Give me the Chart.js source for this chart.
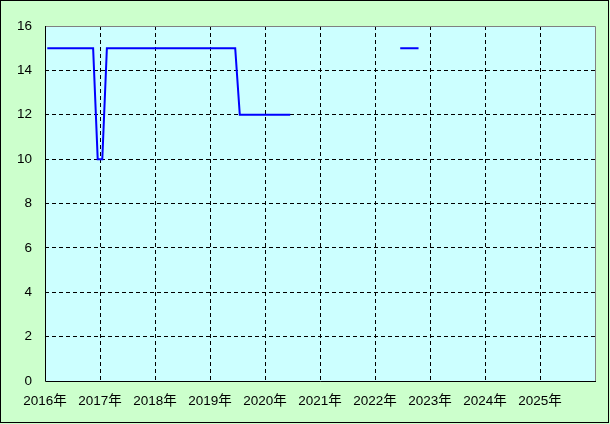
<!DOCTYPE html>
<html>
<head>
<meta charset="utf-8">
<script src="https://cdn.jsdelivr.net/npm/chart.js@4"></script>
<style>
  html, body { margin: 0; padding: 0; background: #ccffcc; }
  #wrap { width: 610px; height: 424px; }
</style>
</head>
<body>
<div id="wrap"><canvas id="chart" width="610" height="424"></canvas></div>
<script>
// monatliche Werte ab Januar 2016 (null = keine Daten)
const startYear = 2016;
const values2016 = [15, 15, 15, 15, 15, 15, 15, 15, 15, 15, 15, 10];
const values2017 = [10, 15, 15, 15, 15, 15, 15, 15, 15, 15, 15, 15];
const values2018 = [15, 15, 15, 15, 15, 15, 15, 15, 15, 15, 15, 15];
const values2019 = [15, 15, 15, 15, 15, 15, 12, 12, 12, 12, 12, 12];
const values2020 = [12, 12, 12, 12, 12, 12, null, null, null, null, null, null];
const values2021 = [null, null, null, null, null, null, null, null, null, null, null, null];
const values2022 = [null, null, null, null, null, 15, 15, 15, 15, 15];
const yearTicks = [2016, 2017, 2018, 2019, 2020, 2021, 2022, 2023, 2024, 2025];
const yTicks = [0, 2, 4, 6, 8, 10, 12, 14, 16];

const monthly = [].concat(values2016, values2017, values2018, values2019, values2020, values2021, values2022);
const points = monthly.map((v, i) => ({ x: startYear + (i + 0.5) / 12, y: v }));

const fontSpec = { family: "'Liberation Sans', 'Noto Sans CJK JP', sans-serif", size: 13.5 };

// Hintergrund und Rahmen
const frame = {
    id: 'frame',
    beforeDraw(chart) {
        const ctx = chart.ctx;
        const a = chart.chartArea;
        ctx.save();
        ctx.fillStyle = '#ccffcc';
        ctx.fillRect(0, 0, chart.width, chart.height);
        ctx.fillStyle = '#ccffff';
        ctx.fillRect(a.left, a.top, a.right - a.left, a.bottom - a.top);
        ctx.restore();
    },
    afterDraw(chart) {
        const ctx = chart.ctx;
        const a = chart.chartArea;
        ctx.save();
        ctx.lineWidth = 1;
        ctx.strokeStyle = '#000000';
        ctx.strokeRect(0.5, 0.5, 608, 422);
        ctx.strokeStyle = '#808080';
        ctx.beginPath();
        ctx.moveTo(a.left, a.top + 0.5);
        ctx.lineTo(a.right + 0.5, a.top + 0.5);
        ctx.lineTo(a.right + 0.5, a.bottom);
        ctx.stroke();
        ctx.strokeStyle = '#000000';
        ctx.beginPath();
        ctx.moveTo(a.left + 0.5, a.top);
        ctx.lineTo(a.left + 0.5, a.bottom + 0.5);
        ctx.lineTo(a.right + 1, a.bottom + 0.5);
        ctx.stroke();
        ctx.restore();
    }
};

new Chart(document.getElementById('chart'), {
    type: 'line',
    data: {
        datasets: [{
            data: points,
            borderColor: '#0000ff',
            borderWidth: 2,
            pointRadius: 0,
            tension: 0,
            spanGaps: false
        }]
    },
    options: {
        responsive: false,
        animation: false,
        layout: { padding: { top: 26, right: 15, left: 0, bottom: 0 } },
        plugins: { legend: { display: false }, tooltip: { enabled: false } },
        scales: {
            x: {
                type: 'linear',
                min: 2016,
                max: 2026,
                afterFit: s => { s.height = 43; },
                afterBuildTicks: s => { s.ticks = yearTicks.concat([2026]).map(v => ({ value: v })); },
                grid: {
                    drawTicks: false,
                    color: c => (c.tick && (c.tick.value === 2016 || c.tick.value === 2026)) ? 'rgba(0,0,0,0)' : '#000000',
                    lineWidth: 1
                },
                border: { display: false, dash: [4, 3] },
                ticks: {
                    autoSkip: false,
                    maxRotation: 0,
                    padding: 12,
                    color: '#000000',
                    font: fontSpec,
                    callback: v => yearTicks.includes(v) ? v + '年' : ''
                }
            },
            y: {
                min: 0,
                max: 16,
                afterFit: s => { s.width = 45; },
                afterBuildTicks: s => { s.ticks = yTicks.map(v => ({ value: v })); },
                grid: {
                    drawTicks: false,
                    color: c => (c.tick && (c.tick.value === 0 || c.tick.value === 16)) ? 'rgba(0,0,0,0)' : '#000000',
                    lineWidth: 1
                },
                border: { display: false, dash: [4, 3] },
                ticks: {
                    padding: 13,
                    color: '#000000',
                    font: fontSpec
                }
            }
        }
    },
    plugins: [frame]
});
</script>
</body>
</html>
